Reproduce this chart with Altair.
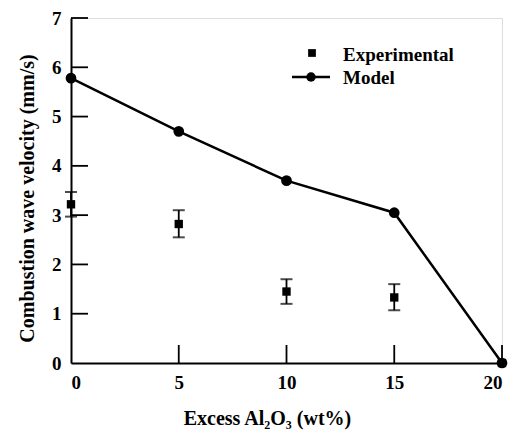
import altair as alt
import pandas as pd

x_vals = [0, 5, 10, 15, 20]
model_v = [5.78, 4.70, 3.70, 3.05, 0.0]
exp_v = [3.22, 2.82, 1.45, 1.33, 0.0]
exp_lo = [2.97, 2.55, 1.20, 1.07, 0.0]
exp_hi = [3.47, 3.10, 1.70, 1.60, 0.0]
y_ticks = [1, 2, 3, 4, 5, 6, 7]
x_ticks = [5, 10, 15, 20]

FONT = "Times New Roman, Liberation Serif, serif"

model_df = pd.DataFrame({"x": x_vals, "v": model_v})
exp_df = pd.DataFrame({"x": x_vals, "v": exp_v, "lo": exp_lo, "hi": exp_hi})
err_df = exp_df[exp_df["hi"] > exp_df["lo"]]
yt_df = pd.DataFrame({"t": y_ticks})
xt_df = pd.DataFrame({"t": x_ticks})

xs = alt.Scale(domain=[0, 20], nice=False)
ys = alt.Scale(domain=[0, 7], nice=False)

xaxis = alt.Axis(values=[0, 5, 10, 15, 20], title="Excess Al₂O₃ (wt%)", grid=False,
                 tickSize=0, labelPadding=10, labelFont=FONT, labelFontSize=19,
                 labelFontWeight="bold", titleFont=FONT, titleFontSize=20,
                 titleFontWeight="bold", titlePadding=16, titleX=196, domainColor="black",
                 domainWidth=2, labelColor="black", titleColor="black")
yaxis = alt.Axis(values=[0, 1, 2, 3, 4, 5, 6, 7], title="Combustion wave velocity (mm/s)",
                 grid=False, tickSize=0, labelPadding=10, labelFont=FONT, labelFontSize=19,
                 labelFontWeight="bold", titleFont=FONT, titleFontSize=20,
                 titleFontWeight="bold", titlePadding=14, titleY=180, domainColor="black",
                 domainWidth=2, labelColor="black", titleColor="black")

base = alt.Chart(model_df)

line = base.mark_line(color="black", strokeWidth=2.5).encode(
    x=alt.X("x:Q", scale=xs, axis=xaxis),
    y=alt.Y("v:Q", scale=ys, axis=yaxis),
)
circles = base.mark_circle(color="black", size=115, opacity=1).encode(
    x=alt.X("x:Q", scale=xs), y=alt.Y("v:Q", scale=ys)
)

errs = alt.Chart(err_df).mark_rule(color="black", strokeWidth=1.8).encode(
    x=alt.X("x:Q", scale=xs), y=alt.Y("lo:Q", scale=ys), y2="hi:Q"
)
cap_lo = alt.Chart(err_df).mark_tick(color="black", orient="horizontal", size=12, thickness=2).encode(
    x=alt.X("x:Q", scale=xs), y=alt.Y("lo:Q", scale=ys)
)
cap_hi = alt.Chart(err_df).mark_tick(color="black", orient="horizontal", size=12, thickness=2).encode(
    x=alt.X("x:Q", scale=xs), y=alt.Y("hi:Q", scale=ys)
)
squares = alt.Chart(exp_df).mark_square(color="black", size=70, opacity=1).encode(
    x=alt.X("x:Q", scale=xs), y=alt.Y("v:Q", scale=ys)
)

ytick_marks = alt.Chart(yt_df).mark_rule(color="black", strokeWidth=1.8).encode(
    x=alt.value(0), x2=alt.value(17), y=alt.Y("t:Q", scale=ys)
)
xtick_marks = alt.Chart(xt_df).mark_rule(color="black", strokeWidth=1.8).encode(
    x=alt.X("t:Q", scale=xs), y=alt.value(345), y2=alt.value(327)
)

# legend
leg_sq = alt.Chart(pd.DataFrame({"a": [0]})).mark_square(color="black", size=60, opacity=1).encode(
    x=alt.value(241), y=alt.value(35)
)
leg_line = alt.Chart(pd.DataFrame({"a": [0]})).mark_rule(color="black", strokeWidth=2.5).encode(
    x=alt.value(221), x2=alt.value(259), y=alt.value(59)
)
leg_circ = alt.Chart(pd.DataFrame({"a": [0]})).mark_circle(color="black", size=90, opacity=1).encode(
    x=alt.value(240), y=alt.value(59)
)
leg_text = alt.Chart(pd.DataFrame({"label": ["Experimental", "Model"], "yy": [37, 60]})).mark_text(
    font=FONT, fontSize=19, fontWeight="bold", align="left", baseline="middle", color="black"
).encode(x=alt.value(272), y=alt.Y("yy:Q", scale=None), text="label:N")

chart = alt.layer(
    ytick_marks, xtick_marks, line, circles, errs, cap_lo, cap_hi, squares,
    leg_line, leg_circ, leg_sq, leg_text
).properties(
    width=431, height=345,
    autosize=alt.AutoSizeParams(type="none"),
    padding={"left": 71, "top": 18, "right": 12, "bottom": 67},
).configure_view(stroke=None).configure(background="white")

chart.save("out.html", embed_options={"renderer": "svg", "actions": False})
